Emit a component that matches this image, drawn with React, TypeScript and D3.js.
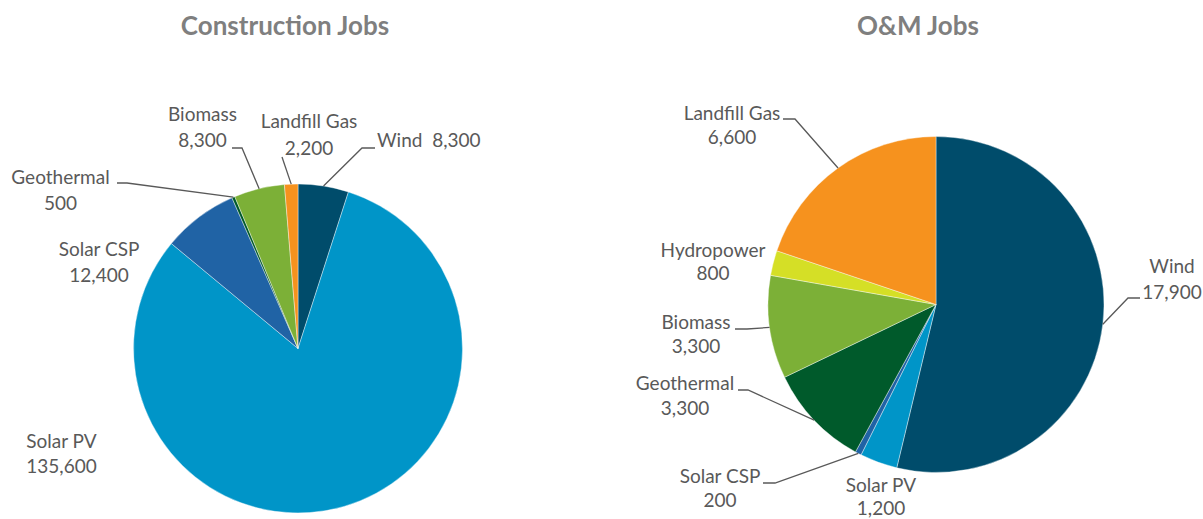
import React from "react";
import * as d3 from "d3";

// ---- Data ----
const constructionCategories = ["Wind", "Solar PV", "Solar CSP", "Geothermal", "Biomass", "Landfill Gas"];
const constructionValues = [8300, 135600, 12400, 500, 8300, 2200];

const omCategories = ["Wind", "Solar PV", "Solar CSP", "Geothermal", "Biomass", "Hydropower", "Landfill Gas"];
const omValues = [17900, 1200, 200, 3300, 3300, 800, 6600];

const chartTitles = ["Construction Jobs", "O&M Jobs"];

const categoryColors: Record<string, string> = {
  Wind: "#004c6b",
  "Solar PV": "#0095c8",
  "Solar CSP": "#2063a5",
  Geothermal: "#005a2b",
  Biomass: "#7cb037",
  Hydropower: "#d5df26",
  "Landfill Gas": "#f6921e",
};

// ---- Layout (label placement, not data) ----
type LabelLayout = {
  cat: string;
  x: number;
  y1: number;
  y2?: number;
  anchor?: "middle" | "start";
  single?: boolean;
  stub?: [number, number, number, number]; // bendX, y, otherX, y
  leaderFrom?: [number, number];
};

const constructionLabels: LabelLayout[] = [
  { cat: "Wind", x: 377, y1: 147, anchor: "start", single: true, stub: [362, 148, 375, 148] },
  { cat: "Solar PV", x: 61.5, y1: 448, y2: 473 },
  { cat: "Solar CSP", x: 99, y1: 256, y2: 282 },
  { cat: "Geothermal", x: 60.5, y1: 184, y2: 210, stub: [127, 183, 117, 183] },
  { cat: "Biomass", x: 202.5, y1: 121, y2: 147, stub: [242, 148, 232, 148] },
  { cat: "Landfill Gas", x: 309, y1: 128, y2: 155, leaderFrom: [282, 157] },
];

const omLabels: LabelLayout[] = [
  { cat: "Wind", x: 1172, y1: 273, y2: 299, stub: [1128, 298, 1140, 298] },
  { cat: "Solar PV", x: 881, y1: 492, y2: 515 },
  { cat: "Solar CSP", x: 720, y1: 483, y2: 507, stub: [775, 483, 763, 483] },
  { cat: "Geothermal", x: 685, y1: 390, y2: 415, stub: [748, 390, 738, 390] },
  { cat: "Biomass", x: 696, y1: 329, y2: 353, stub: [747, 329, 735, 329] },
  { cat: "Hydropower", x: 713, y1: 257, y2: 280 },
  { cat: "Landfill Gas", x: 732, y1: 120, y2: 144, stub: [795, 119, 783, 119] },
];

const FONT = "Lato, 'Open Sans', sans-serif";
const LABEL_COLOR = "#595959";
const LABEL_SIZE = 19;
const fmt = d3.format(",");

function Pie({
  cats,
  vals,
  cx,
  cy,
  r,
  labels,
  title,
  titleX,
}: {
  cats: string[];
  vals: number[];
  cx: number;
  cy: number;
  r: number;
  labels: LabelLayout[];
  title: string;
  titleX: number;
}) {
  const data = cats.map((c, i) => ({ cat: c, value: vals[i] }));
  const pie = d3
    .pie<{ cat: string; value: number }>()
    .sort(null)
    .value((d) => d.value)
    .startAngle(0)
    .endAngle(2 * Math.PI);
  const arcs = pie(data);
  const arcGen = d3
    .arc<d3.PieArcDatum<{ cat: string; value: number }>>()
    .innerRadius(0)
    .outerRadius(r);

  const edge = (cat: string): [number, number] => {
    const a = arcs.find((d) => d.data.cat === cat)!;
    const m = (a.startAngle + a.endAngle) / 2;
    return [cx + r * Math.sin(m), cy - r * Math.cos(m)];
  };

  return (
    <g>
      <text
        x={titleX}
        y={35}
        textAnchor="middle"
        fontFamily={FONT}
        fontWeight={700}
        fontSize={26}
        fill="#7f7f7f"
      >
        {title}
      </text>
      <g transform={`translate(${cx},${cy})`}>
        {arcs.map((a) => (
          <path
            key={a.data.cat}
            d={arcGen(a) || ""}
            fill={categoryColors[a.data.cat]}
            stroke="#ffffff"
            strokeWidth={0.4}
          />
        ))}
      </g>
      {labels.map((l) => {
        const d = data.find((x) => x.cat === l.cat)!;
        const [ex, ey] = edge(l.cat);
        let path: string | null = null;
        if (l.stub) {
          path = `M${ex},${ey}L${l.stub[0]},${l.stub[1]}L${l.stub[2]},${l.stub[3]}`;
        } else if (l.leaderFrom) {
          path = `M${ex},${ey}L${l.leaderFrom[0]},${l.leaderFrom[1]}`;
        }
        return (
          <g key={l.cat}>
            {path && <path d={path} fill="none" stroke={LABEL_COLOR} strokeWidth={1.3} />}
            {l.single ? (
              <text
                x={l.x}
                y={l.y1}
                textAnchor={l.anchor || "middle"}
                fontFamily={FONT}
                fontSize={LABEL_SIZE}
                fill={LABEL_COLOR}
                style={{ whiteSpace: "pre" }}
              >
                {`${d.cat}  ${fmt(d.value)}`}
              </text>
            ) : (
              <>
                <text x={l.x} y={l.y1} textAnchor="middle" fontFamily={FONT} fontSize={LABEL_SIZE} fill={LABEL_COLOR}>
                  {d.cat}
                </text>
                <text x={l.x} y={l.y2} textAnchor="middle" fontFamily={FONT} fontSize={LABEL_SIZE} fill={LABEL_COLOR}>
                  {fmt(d.value)}
                </text>
              </>
            )}
          </g>
        );
      })}
    </g>
  );
}

export default function App() {
  return (
    <svg
      width={1203}
      height={519}
      style={{ position: "absolute", left: 0, top: 0, background: "#ffffff" }}
    >
      <Pie
        cats={constructionCategories}
        vals={constructionValues}
        cx={298}
        cy={348.5}
        r={164.5}
        labels={constructionLabels}
        title={chartTitles[0]}
        titleX={285}
      />
      <Pie
        cats={omCategories}
        vals={omValues}
        cx={936}
        cy={304.5}
        r={168}
        labels={omLabels}
        title={chartTitles[1]}
        titleX={918}
      />
    </svg>
  );
}
